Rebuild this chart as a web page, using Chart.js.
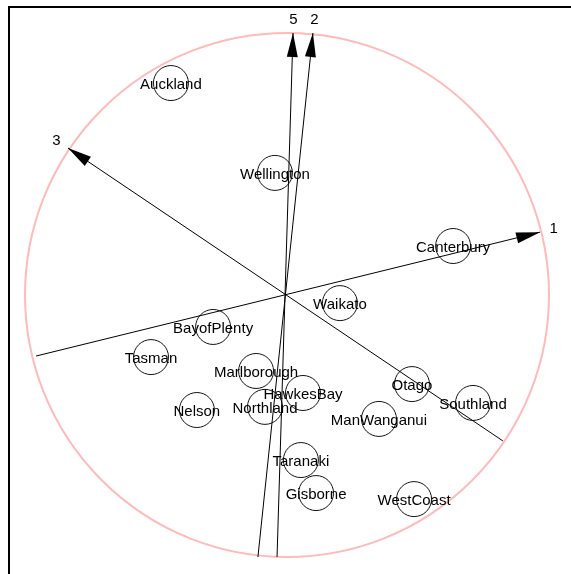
<!DOCTYPE html>
<html>
<head>
<meta charset="utf-8">
<title>Biplot of New Zealand regions</title>
<script src="https://cdn.jsdelivr.net/npm/chart.js@4/dist/chart.umd.min.js"></script>
<style>
  html, body { margin: 0; padding: 0; background: #ffffff; }
  canvas { display: block; }
</style>
</head>
<body>
<canvas id="biplot" width="571" height="574"></canvas>
<script>
// Region scores (unit = radius of the correlation circle)
const regions = ['Auckland', 'Wellington', 'Canterbury', 'Waikato', 'BayofPlenty', 'Tasman',
  'Marlborough', 'HawkesBay', 'Northland', 'Nelson', 'Otago', 'Southland',
  'ManWanganui', 'Taranaki', 'Gisborne', 'WestCoast'];
const regionX = [-0.443, -0.046, 0.634, 0.202, -0.282, -0.519,
  -0.118, 0.061, -0.084, -0.344, 0.477, 0.710,
  0.351, 0.053, 0.111, 0.485];
const regionY = [0.809, 0.466, 0.187, -0.031, -0.122, -0.237,
  -0.290, -0.374, -0.427, -0.439, -0.340, -0.412,
  -0.473, -0.630, -0.756, -0.779];

// Variable axes: arrow tip and opposite end of each line
const axisNames = ['1', '2', '3', '5'];
const axisTipX = [0.966, 0.099, -0.836, 0.023];
const axisTipY = [0.240, 1.000, 0.561, 1.000];
const axisTailX = [-0.958, -0.111, 0.824, -0.038];
const axisTailY = [-0.233, -1.000, -0.557, -1.000];

// Visible window of the plane
const xRange = [-1.0954, 1.0840];
const yRange = [-1.0649, 1.1260];
const circleRadius = 1;

const FONT = '15px "Liberation Sans", Arial, sans-serif';

const datasets = [];
axisNames.forEach((name, i) => {
  datasets.push({
    label: 'axis ' + name,
    data: [{ x: axisTailX[i], y: axisTailY[i] }, { x: axisTipX[i], y: axisTipY[i] }],
    showLine: true,
    borderColor: '#000000',
    borderWidth: 1,
    pointRadius: 0,
    pointHoverRadius: 0,
    fill: false
  });
});
datasets.push({
  label: 'regions',
  data: regions.map((r, i) => ({ x: regionX[i], y: regionY[i] })),
  pointStyle: 'circle',
  pointRadius: 17.5,
  pointHoverRadius: 17.5,
  pointBorderColor: '#111111',
  pointBackgroundColor: 'rgba(0,0,0,0)',
  pointBorderWidth: 1,
  showLine: false
});

const decorations = {
  id: 'biplotDecorations',
  beforeDatasetsDraw(chart) {
    const { ctx, scales: { x, y } } = chart;
    ctx.save();
    // frame
    ctx.strokeStyle = '#000000';
    ctx.lineWidth = 2;
    ctx.beginPath();
    ctx.moveTo(9, 580);
    ctx.lineTo(9, 7);
    ctx.lineTo(580, 7);
    ctx.stroke();
    // correlation circle
    const cx = x.getPixelForValue(0);
    const cy = y.getPixelForValue(0);
    const r = x.getPixelForValue(circleRadius) - cx;
    ctx.strokeStyle = '#ffbaba';
    ctx.lineWidth = 2;
    ctx.beginPath();
    ctx.arc(cx, cy, r, 0, Math.PI * 2);
    ctx.stroke();
    ctx.restore();
  },
  afterDatasetsDraw(chart) {
    const { ctx, scales: { x, y } } = chart;
    ctx.save();
    ctx.fillStyle = '#000000';
    ctx.font = FONT;
    ctx.textAlign = 'center';
    ctx.textBaseline = 'middle';
    axisNames.forEach((name, i) => {
      const tx = x.getPixelForValue(axisTipX[i]);
      const ty = y.getPixelForValue(axisTipY[i]);
      const bx = x.getPixelForValue(axisTailX[i]);
      const by = y.getPixelForValue(axisTailY[i]);
      const len = Math.hypot(tx - bx, ty - by);
      const ux = (tx - bx) / len, uy = (ty - by) / len;
      const headLen = 24, headHalf = 5.5;
      const baseX = tx - ux * headLen, baseY = ty - uy * headLen;
      ctx.beginPath();
      ctx.moveTo(tx, ty);
      ctx.lineTo(baseX - uy * headHalf, baseY + ux * headHalf);
      ctx.lineTo(baseX + uy * headHalf, baseY - ux * headHalf);
      ctx.closePath();
      ctx.fill();
      ctx.fillText(name, tx + ux * 14, ty + uy * 13);
    });
    // region names sit on their circles
    regions.forEach((name, i) => {
      ctx.fillText(name, x.getPixelForValue(regionX[i]), y.getPixelForValue(regionY[i]) + 1.5);
    });
    ctx.restore();
  }
};

new Chart(document.getElementById('biplot'), {
  type: 'scatter',
  data: { datasets },
  options: {
    responsive: false,
    devicePixelRatio: 1,
    animation: false,
    layout: { padding: 0, autoPadding: false },
    plugins: { legend: { display: false }, tooltip: { enabled: false }, title: { display: false } },
    events: [],
    scales: {
      x: { type: 'linear', min: xRange[0], max: xRange[1], display: false },
      y: { type: 'linear', min: yRange[0], max: yRange[1], display: false }
    }
  },
  plugins: [decorations]
});
</script>
</body>
</html>
